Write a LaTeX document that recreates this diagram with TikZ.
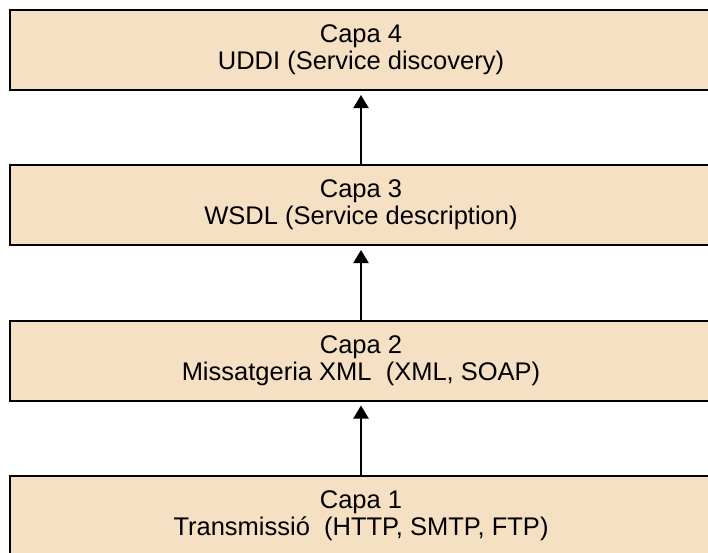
\documentclass[tikz,border=0pt]{standalone}
\usepackage{fontspec}
\setmainfont{Liberation Sans}
\usetikzlibrary{arrows.meta}
\definecolor{layerfill}{RGB}{245,224,196}
\begin{document}
\begin{tikzpicture}[x=1pt,y=-1pt,
  layer/.style={draw=black, line width=2pt, fill=layerfill,
    minimum width=702pt, minimum height=80pt, inner sep=0pt,
    align=center, font=\fontsize{25.5}{27}\selectfont},
  uparrow/.style={line width=2pt, -{Triangle[width=15pt,length=13pt]}, shorten >=4pt}]
  \useasboundingbox (0,0) rectangle (708,552);
  % protocol stack, bottom layer first
  \node[layer] (l1) at (361,516) {Capa 1\\Transmissió\ \ (HTTP, SMTP, FTP)};
  \node[layer] (l2) at (361,360.5) {Capa 2\\Missatgeria XML\ \ (XML, SOAP)};
  \node[layer] (l3) at (361,205) {Capa 3\\WSDL (Service description)};
  \node[layer] (l4) at (361,50) {Capa 4\\UDDI (Service discovery)};
  % each layer builds on the one below it
  \draw[uparrow] (l1.north) -- (l2.south);
  \draw[uparrow] (l2.north) -- (l3.south);
  \draw[uparrow] (l3.north) -- (l4.south);
\end{tikzpicture}
\end{document}
